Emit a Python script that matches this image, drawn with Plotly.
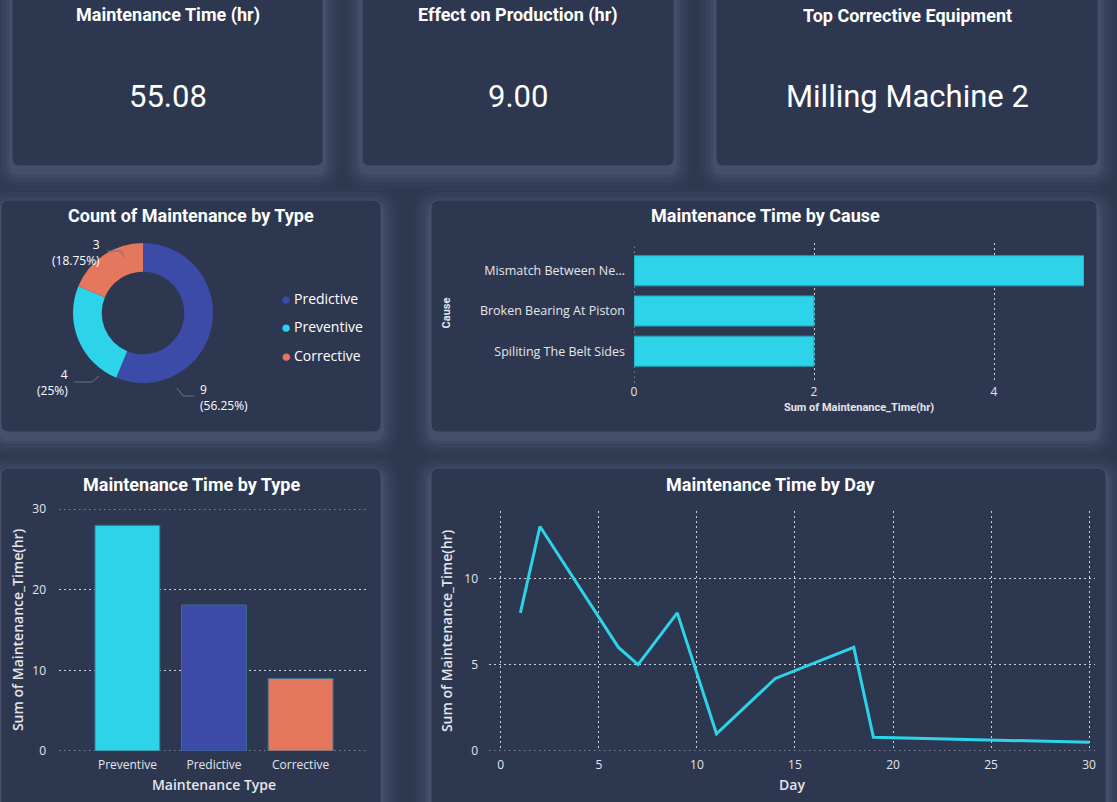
import plotly.graph_objects as go

W, H = 1117, 802

# KPI cards
kpi_titles = ["Maintenance Time (hr)", "Effect on Production (hr)", "Top Corrective Equipment"]
kpi_values = ["55.08", "9.00", "Milling Machine 2"]

# donut: count by type
donut_types = ["Predictive", "Preventive", "Corrective"]
donut_counts = [9, 4, 3]

# time by cause
causes = ["Mismatch Between Ne...", "Broken Bearing At Piston", "Spiliting The Belt Sides"]
cause_hours = [5, 2, 2]

# time by type
bar_types = ["Preventive", "Predictive", "Corrective"]
bar_hours = [27.98, 18.1, 9.0]

# time by day
days = [1, 2, 6, 7, 9, 11, 14, 18, 19, 30]
day_hours = [8, 13, 6, 5, 8, 1, 4.2, 6, 0.8, 0.5]

type_colors = {"Predictive": "#3C4BA8", "Preventive": "#2DD3E8", "Corrective": "#E5775E"}
CYAN = "#2DD3E8"
BG = "#2E3851"
CARD = "#2D3750"
TXT = "#FFFFFF"
TICK = "#E4E6EA"
GRID = "#CDD1D8"
DOTS = "1.5px,3.5px"
TITLE_FONT = "Roboto, Liberation Sans Narrow, sans-serif"
BODY_FONT = "Open Sans, Noto Sans, Roboto"


def px(x):
    return x / W


def py(y):
    return 1 - y / H


def round_rect(x0, y0, x1, y1, r):
    pts = []
    pts.append(f"M {px(x0 + r)},{py(y0)}")
    pts.append(f"L {px(x1 - r)},{py(y0)}")
    pts.append(f"Q {px(x1)},{py(y0)} {px(x1)},{py(y0 + r)}")
    pts.append(f"L {px(x1)},{py(y1 - r)}")
    pts.append(f"Q {px(x1)},{py(y1)} {px(x1 - r)},{py(y1)}")
    pts.append(f"L {px(x0 + r)},{py(y1)}")
    pts.append(f"Q {px(x0)},{py(y1)} {px(x0)},{py(y1 - r)}")
    pts.append(f"L {px(x0)},{py(y0 + r)}")
    pts.append(f"Q {px(x0)},{py(y0)} {px(x0 + r)},{py(y0)}")
    return " ".join(pts) + " Z"


cards = [(12, -12, 323, 166), (362, -12, 674, 166), (716, -12, 1098, 166),
         (1, 200, 381, 432), (431, 200, 1097, 432),
         (1, 468, 381, 814), (431, 468, 1106, 814)]

shapes = []
# soft glow around the cards
for grow, alpha in [(18, 0.05), (14, 0.07), (10, 0.09), (6, 0.12), (3, 0.16)]:
    for (x0, y0, x1, y1) in cards:
        shapes.append(dict(type="path", xref="paper", yref="paper", layer="below",
                           path=round_rect(x0 - grow, y0 - grow + 6, x1 + grow, y1 + grow + 6, 8 + grow),
                           fillcolor=f"rgba(105,118,145,{alpha})", line=dict(width=0)))
for (x0, y0, x1, y1) in cards:
    shapes.append(dict(type="path", xref="paper", yref="paper", layer="below",
                       path=round_rect(x0, y0, x1, y1, 8),
                       fillcolor=CARD, line=dict(color="#465069", width=1)))

# dotted gridlines sitting on the axis edges
edge_lines = [
    dict(xref="x", yref="y domain", x0=0, x1=0, y0=0, y1=1),
    dict(xref="x2 domain", yref="y2", x0=0, x1=1, y0=0, y1=0),
    dict(xref="x2 domain", yref="y2", x0=0, x1=1, y0=30, y1=30),
    dict(xref="x3 domain", yref="y3", x0=0, x1=1, y0=0, y1=0),
]
for e in edge_lines:
    shapes.append(dict(type="line", layer="below", line=dict(color=GRID, width=1, dash=DOTS), **e))

annotations = []


def text(x, y, s, size, font=TITLE_FONT, color=TXT, xanchor="center", weight="normal", align="center"):
    annotations.append(dict(x=px(x), y=py(y), xref="paper", yref="paper", text=s, showarrow=False,
                            xanchor=xanchor, yanchor="middle", align=align,
                            font=dict(family=font, size=size, color=color, weight=weight)))


# KPI texts
for (x0, y0, x1, y1), t, v in zip(cards[:3], kpi_titles, kpi_values):
    cx = (x0 + x1) / 2
    text(cx, 15, t, 18, weight="bold")
    text(cx, 97, v, 31)

# chart titles
text(191, 215, "Count of Maintenance by Type", 18, weight="bold")
text(765, 215, "Maintenance Time by Cause", 18, weight="bold")
text(191, 484, "Maintenance Time by Type", 18, weight="bold")
text(770, 484, "Maintenance Time by Day", 18, weight="bold")

# donut labels
total = sum(donut_counts)
pct = [f"{c / total * 100:.2f}".rstrip("0").rstrip(".") for c in donut_counts]
lab = {t: f"{c}<br>({p}%)" for t, c, p in zip(donut_types, donut_counts, pct)}
text(102, 253, lab["Corrective"], 12, font=BODY_FONT, xanchor="right", align="right")
text(70, 383, lab["Preventive"], 12, font=BODY_FONT, xanchor="right", align="right")
text(198, 397, lab["Predictive"], 12, font=BODY_FONT, xanchor="left", align="left")
for pts in [[(107, 251), (121, 251), (124, 257)],
            [(74, 382), (92, 382), (99, 376)],
            [(177, 388), (183, 396), (194, 396)]]:
    for a, b in zip(pts[:-1], pts[1:]):
        shapes.append(dict(type="line", xref="paper", yref="paper",
                           x0=px(a[0]), y0=py(a[1]), x1=px(b[0]), y1=py(b[1]),
                           line=dict(color="#6A7388", width=1)))

# donut legend
for i, t in enumerate(donut_types):
    yy = 298 + i * 28.5
    text(286, yy, "●", 17, font=BODY_FONT, color=type_colors[t])
    text(292, yy, t, 14, font=BODY_FONT, xanchor="left")

fig = go.Figure()

fig.add_trace(go.Pie(labels=donut_types, values=donut_counts, hole=0.59, sort=False,
                     direction="clockwise", rotation=0,
                     marker=dict(colors=[type_colors[t] for t in donut_types], line=dict(width=0)),
                     textinfo="none", showlegend=False,
                     domain=dict(x=[px(73), px(213)], y=[py(383), py(243)])))

fig.add_trace(go.Bar(x=cause_hours, y=causes, orientation="h", marker_color=CYAN,
                     marker_line=dict(color="#1E9FB6", width=1),
                     xaxis="x", yaxis="y", showlegend=False))

fig.add_trace(go.Bar(x=bar_types, y=bar_hours, marker_color=[type_colors[t] for t in bar_types],
                     marker_line=dict(color="#3D6E8A", width=1),
                     xaxis="x2", yaxis="y2", showlegend=False))

fig.add_trace(go.Scatter(x=days, y=day_hours, mode="lines", line=dict(color=CYAN, width=3),
                         xaxis="x3", yaxis="y3", showlegend=False))

tickfont = dict(family=BODY_FONT, size=12, color=TICK)
grid = dict(showgrid=True, gridcolor=GRID, griddash=DOTS, gridwidth=1, automargin=False)

fig.update_layout(
    width=W, height=H, margin=dict(l=0, r=0, t=0, b=0, autoexpand=False),
    paper_bgcolor=BG, plot_bgcolor="rgba(0,0,0,0)",
    bargap=0.25,
    shapes=shapes, annotations=annotations,
    xaxis=dict(domain=[px(634), px(1084)], range=[0, 5], anchor="y", tickvals=[0, 2, 4],
               tickfont=tickfont, zeroline=False, showline=False, ticks="", **grid,
               title=dict(text="Sum of Maintenance_Time(hr)", standoff=4,
                          font=dict(family=TITLE_FONT, size=11, color=TICK, weight="bold"))),
    yaxis=dict(domain=[py(383), py(243)], anchor="x", type="category",
               categoryorder="array", categoryarray=causes, range=[2.79, -0.69],
               tickfont=dict(family=BODY_FONT, size=12.5, color=TICK), showgrid=False, ticks="",
               ticklabelstandoff=8, automargin=False,
               title=dict(text="Cause", standoff=27,
                          font=dict(family=TITLE_FONT, size=11, color=TICK, weight="bold"))),
    xaxis2=dict(domain=[px(59), px(369)], anchor="y2", range=[-0.79, 2.79],
                tickfont=tickfont, showgrid=False, ticks="", ticklabelstandoff=5, automargin=False,
                title=dict(text="Maintenance Type", standoff=8,
                           font=dict(family=BODY_FONT, size=14, color=TICK, weight=600))),
    yaxis2=dict(domain=[py(751), py(509)], anchor="x2", range=[0, 30], tickvals=[0, 10, 20, 30],
                tickfont=tickfont, zeroline=False, ticks="", ticklabelstandoff=12, **grid,
                title=dict(text="Sum of Maintenance_Time(hr)", standoff=5,
                           font=dict(family=BODY_FONT, size=14, color=TICK, weight=600))),
    xaxis3=dict(domain=[px(489), px(1095)], anchor="y3", range=[-0.6, 30.3],
                tickvals=[0, 5, 10, 15, 20, 25, 30],
                tickfont=tickfont, zeroline=False, ticks="", ticklabelstandoff=5, **grid,
                title=dict(text="Day", standoff=8,
                           font=dict(family=BODY_FONT, size=14, color=TICK, weight=600))),
    yaxis3=dict(domain=[py(751), py(511)], anchor="x3", range=[0, 13.9], tickvals=[0, 5, 10],
                tickfont=tickfont, zeroline=False, ticks="", ticklabelstandoff=10, **grid,
                title=dict(text="Sum of Maintenance_Time(hr)", standoff=8,
                           font=dict(family=BODY_FONT, size=14, color=TICK, weight=600))),
)

fig.write_html("out.html", config={"displayModeBar": False},
               post_script="document.body.style.margin='0';")
